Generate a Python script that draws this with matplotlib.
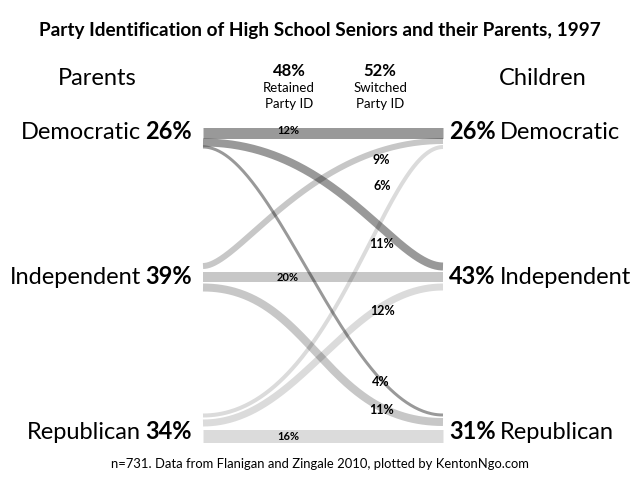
import matplotlib
matplotlib.use('Agg')
import matplotlib.pyplot as plt
import numpy as np

# ---------------- data ----------------
parties = ['Democratic', 'Independent', 'Republican']
parent_share = [26, 39, 34]
child_share = [26, 43, 31]
retained_total = 48
switched_total = 52
flow_src = ['Democratic', 'Democratic', 'Democratic',
            'Independent', 'Independent', 'Independent',
            'Republican', 'Republican', 'Republican']
flow_dst = ['Democratic', 'Independent', 'Republican',
            'Democratic', 'Independent', 'Republican',
            'Democratic', 'Independent', 'Republican']
flow_pct = [12, 11, 4, 9, 20, 11, 6, 12, 16]
title = 'Party Identification of High School Seniors and their Parents, 1997'
footer = 'n=731. Data from Flanigan and Zingale 2010, plotted by KentonNgo.com'

# ---------------- layout / style (pixel space) ----------------
FONT = ['Lato', 'DejaVu Sans']
X0, X1 = 203, 443
y_left = [132.5, 142.5, 147.0, 266.0, 277.0, 287.5, 415.5, 423.0, 435.5]
y_right = [132.5, 266.5, 415.0, 141.0, 277.0, 422.0, 147.0, 287.0, 435.5]
width_px = [11, 8, 3, 6, 10, 8, 4, 7, 13]
bez = [(0, 0), (0.55, 0.8), (0.3, 0.6), (0.15, 0.45), (0, 0), (0.45, 0.5),
       (0.55, 0.75), (0.4, 0.6), (0, 0)]
node_alpha = {'Democratic': 0.40, 'Independent': 0.22, 'Republican': 0.14}
label_xy = [(288, 131), (382, 244), (381, 382), (381, 160), (288, 277.5),
            (382, 410), (382, 186), (383, 311), (288, 436)]
node_baseline = {'Democratic': 139, 'Independent': 284, 'Republican': 439}

fig = plt.figure(figsize=(6.4, 4.8), dpi=100)
ax = fig.add_axes([0, 0, 1, 1])
ax.set_xlim(0, 640)
ax.set_ylim(480, 0)
ax.axis('off')

pt_per_px = 72.0 / 100.0
t = np.linspace(0, 1, 200)
order = [8, 4, 0, 6, 7, 3, 5, 1, 2]
for k in order:
    ya, yb = y_left[k], y_right[k]
    a, b = bez[k]
    if flow_src[k] == flow_dst[k]:
        xs = np.array([X0, X1]); ys = np.array([ya, yb])
    else:
        dx = X1 - X0
        p0 = (X0, ya); p1 = (X0 + a * dx, ya); p2 = (X0 + b * dx, yb); p3 = (X1, yb)
        xs = ((1-t)**3*p0[0] + 3*(1-t)**2*t*p1[0] + 3*(1-t)*t**2*p2[0] + t**3*p3[0])
        ys = ((1-t)**3*p0[1] + 3*(1-t)**2*t*p1[1] + 3*(1-t)*t**2*p2[1] + t**3*p3[1])
    ax.plot(xs, ys, color='black', alpha=node_alpha[flow_src[k]],
            lw=width_px[k] * pt_per_px, solid_capstyle='butt', zorder=2)

for k in range(len(flow_pct)):
    x, y = label_xy[k]
    fs = 8 if flow_src[k] == flow_dst[k] else 9
    ax.text(x, y, f'{flow_pct[k]}%', ha='center', va='center', fontsize=fs,
            fontweight='bold', family=FONT, color='black', zorder=5)

fig.canvas.draw()
renderer = fig.canvas.get_renderer()

def width_of(txt):
    return txt.get_window_extent(renderer=renderer).width

def mixed(x, y, segs, align, fs):
    gap = fs * 0.25
    if align == 'right':
        cur = x
        for s, w in reversed(segs):
            tx = ax.text(cur, y, s, ha='right', va='baseline', fontsize=fs,
                         fontweight=w, family=FONT)
            cur -= width_of(tx) + gap
    else:
        cur = x
        for s, w in segs:
            tx = ax.text(cur, y, s, ha='left', va='baseline', fontsize=fs,
                         fontweight=w, family=FONT)
            cur += width_of(tx) + gap

NFS = 17
for i, p in enumerate(parties):
    mixed(192, node_baseline[p], [(p, 'normal'), (f'{parent_share[i]}%', 'bold')], 'right', NFS)
    mixed(449, node_baseline[p], [(f'{child_share[i]}%', 'bold'), (p, 'normal')], 'left', NFS)

ax.text(320, 36, title, ha='center', va='baseline', fontsize=13.7,
        fontweight='bold', family=FONT)
ax.text(97, 85, 'Parents', ha='center', va='baseline', fontsize=17, family=FONT)
ax.text(543, 85, 'Children', ha='center', va='baseline', fontsize=17, family=FONT)
ax.text(289, 76, f'{retained_total}%', ha='center', va='baseline', fontsize=12,
        fontweight='bold', family=FONT)
ax.text(289, 82, 'Retained\nParty ID', ha='center', va='top', fontsize=9.5,
        family=FONT, linespacing=1.45)
ax.text(380, 76, f'{switched_total}%', ha='center', va='baseline', fontsize=12,
        fontweight='bold', family=FONT)
ax.text(380, 82, 'Switched\nParty ID', ha='center', va='top', fontsize=9.5,
        family=FONT, linespacing=1.45)
ax.text(320, 468, footer, ha='center', va='baseline', fontsize=9.4, family=FONT)

fig.savefig('out.png', dpi=100)
